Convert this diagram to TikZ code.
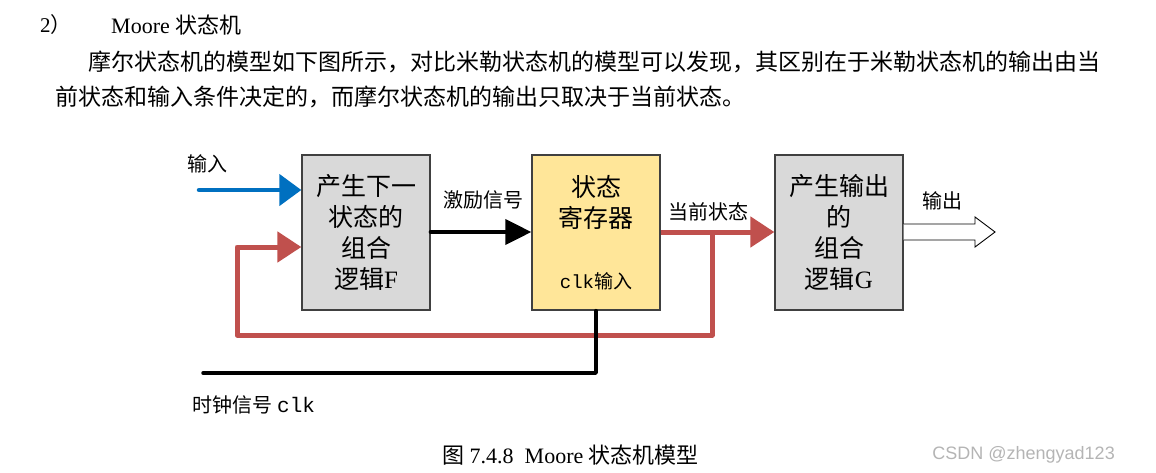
\documentclass[tikz,border=0pt]{standalone}
\usepackage{fontspec}
\setmainfont{Liberation Serif}
\newfontfamily\cjk{Noto Sans CJK SC}
\newfontfamily\mono{Liberation Mono}
\newfontfamily\wm{Liberation Sans}
\usetikzlibrary{arrows.meta,calc}
\definecolor{inblue}{HTML}{0070C0}
\definecolor{fbred}{HTML}{C0504D}
\definecolor{regyel}{HTML}{FFE699}
\definecolor{boxgray}{HTML}{D9D9D9}
\definecolor{bord}{HTML}{404040}
\definecolor{wmgray}{HTML}{B4B4B4}
\tikzset{
  blk/.style={draw=bord, line width=1.3pt, minimum width=128pt, minimum height=155pt,
    align=center, inner sep=0pt, font=\fontsize{25}{31}\selectfont},
  lbl/.style={inner sep=0pt, font=\fontsize{20}{24}\selectfont},
  para/.style={inner sep=0pt, anchor=west, font=\fontsize{23}{28}\selectfont},
  bluearr/.style={draw=inblue, line width=4.5pt, line cap=round, -{Triangle[length=22pt,width=31pt]}},
  redarr/.style={draw=fbred, line width=5pt, line join=round, -{Triangle[length=24pt,width=30pt]}},
  blkarr/.style={draw=black, line width=4pt, line cap=round, -{Triangle[length=26pt,width=25pt]}},
  clkline/.style={draw=black, line width=3.5pt, line cap=round, line join=round},
}
\begin{document}
\begin{tikzpicture}[x=1pt,y=-1pt]
\useasboundingbox (0,0) rectangle (1156,472);
% heading and paragraph
\node[para] (h1) at (40,25) {\fontsize{21}{24}\selectfont 2{\cjk ）}};
\node[para] (h2) at (111,25) {\fontsize{22}{24}\selectfont Moore {\cjk 状态机}};
\node[para] (p1) at (88,62) {\cjk 摩尔状态机的模型如下图所示，对比米勒状态机的模型可以发现，其区别在于米勒状态机的输出由当};
\node[para] (p2) at (55,97) {\cjk 前状态和输入条件决定的，而摩尔状态机的输出只取决于当前状态。};
% blocks
\node[blk, fill=boxgray] (F) at (366,232.5) {{\cjk 产生下一}\\{\cjk 状态的}\\{\cjk 组合}\\{\cjk 逻辑}F};
\node[blk, fill=regyel] (R) at (596,232.5) {{\cjk 状态}\\{\cjk 寄存器}\\[30pt]{\fontsize{19}{31}\selectfont\mono clk}{\fontsize{19}{31}\selectfont\cjk 输入}};
\node[blk, fill=boxgray] (G) at (839,232.5) {{\cjk 产生输出}\\{\cjk 的}\\{\cjk 组合}\\{\cjk 逻辑}G};
% coordinates
\coordinate (inS) at (199,190);
\coordinate (tap) at (712,232);
\coordinate (fbBR) at (712,335);
\coordinate (fbBL) at (237,335);
\coordinate (fbTL) at (237,247);
\coordinate (clkC) at (598,373);
\coordinate (clkE) at (203,373);
% input
\draw[bluearr] (inS) -- (inS -| F.west);
\node[lbl] (linp) at (207,164) {\cjk 输入};
% excitation
\draw[blkarr] (F.east |- 0,232) -- (R.west |- 0,232);
\node[lbl] (lexc) at (483,200) {\cjk 激励信号};
% current state
\draw[redarr] (R.east |- 0,232) -- (G.west |- 0,232);
\node[lbl] (lcur) at (708,212) {\cjk 当前状态};
% feedback
\draw[redarr] (tap) -- (fbBR) -- (fbBL) -- (fbTL) -- (fbTL -| F.west);
% clock
\draw[clkline] (R.south) -- (R.south |- clkC) -- (clkE);
\node[lbl, anchor=west] (lclk) at (192,405) {{\cjk 时钟信号} {\fontsize{21}{24}\selectfont\mono clk}};
% output hollow arrow
\coordinate (oTip) at (995,232);
\draw[black, line width=0.9pt, fill=white]
  (G.east |- 0,224) -- (975,224) -- (975,217) -- (oTip) -- (975,247) -- (975,240) -- (G.east |- 0,240);
\node[lbl] (lout) at (942,201) {\cjk 输出};
% caption
\node[lbl, anchor=west, font=\fontsize{22}{26}\selectfont] (cap) at (442,455) {{\cjk 图} 7.4.8\ \ Moore {\cjk 状态机模型}};
\node[lbl, anchor=east, text=wmgray, font=\fontsize{18}{22}\selectfont\wm] (wmk) at (1115,455) {CSDN @zhengyad123};
\end{tikzpicture}
\end{document}
